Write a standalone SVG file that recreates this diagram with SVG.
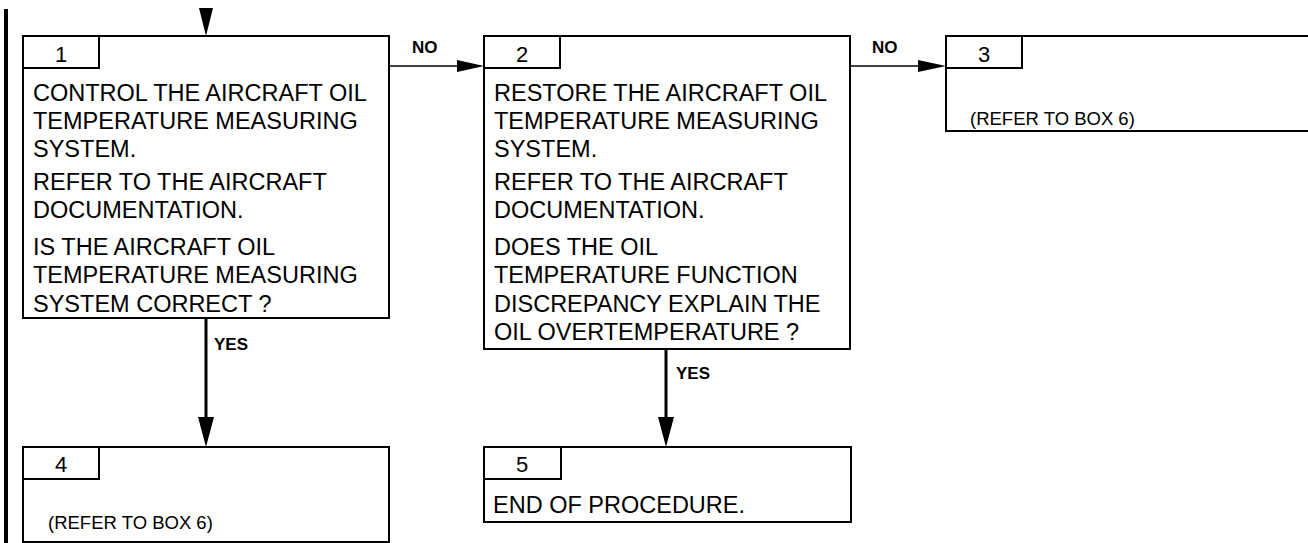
<svg xmlns="http://www.w3.org/2000/svg" width="1308" height="543" viewBox="0 0 1308 543">
<style>
.box{fill:#fff;stroke:#000;stroke-width:2}
.tab{fill:none;stroke:#000;stroke-width:2}
.t{font-family:"Liberation Sans",Arial,sans-serif;font-size:23.5px;fill:#000}
.num{font-family:"Liberation Sans",Arial,sans-serif;font-size:22px;fill:#000;text-anchor:middle}
.sm{font-family:"Liberation Sans",Arial,sans-serif;font-size:18.5px;fill:#000}
.lbl{font-family:"Liberation Sans",Arial,sans-serif;font-size:17px;font-weight:bold;fill:#000}
.thin{stroke:#000;stroke-width:1.5;fill:none}
.thick{stroke:#000;stroke-width:3;fill:none}
</style>
<rect x="4" y="9" width="4" height="534" fill="#000"/>
<g id="connectors">
<polygon points="199,8 213,8 206,36" fill="#000"/>
<line class="thin" x1="389" y1="66" x2="458" y2="66"/>
<polygon points="457,60 484,66 457,72" fill="#000"/>
<line class="thin" x1="850" y1="66" x2="919" y2="66"/>
<polygon points="918,60 946,66 918,72" fill="#000"/>
<line class="thick" x1="206" y1="318" x2="206" y2="418"/>
<polygon points="198,417 214,417 206,447" fill="#000"/>
<line class="thick" x1="666" y1="349" x2="666" y2="418"/>
<polygon points="658,417 674,417 666,447" fill="#000"/>
<text class="lbl" x="412" y="53">NO</text>
<text class="lbl" x="872" y="53">NO</text>
<text class="lbl" x="214" y="350">YES</text>
<text class="lbl" x="676" y="379">YES</text>
</g>
<g id="node1">
<rect class="box" x="23" y="36" width="366" height="282"/>
<polyline class="tab" points="23,68 99,68 99,36"/>
<text class="num" x="61" y="62">1</text>
<text class="t" x="33" y="101">CONTROL THE AIRCRAFT OIL</text>
<text class="t" x="33" y="129">TEMPERATURE MEASURING</text>
<text class="t" x="33" y="157">SYSTEM.</text>
<text class="t" x="33" y="190">REFER TO THE AIRCRAFT</text>
<text class="t" x="33" y="218">DOCUMENTATION.</text>
<text class="t" x="33" y="255">IS THE AIRCRAFT OIL</text>
<text class="t" x="33" y="283">TEMPERATURE MEASURING</text>
<text class="t" x="33" y="312">SYSTEM CORRECT ?</text>
</g>
<g id="node2">
<rect class="box" x="484" y="36" width="366" height="313"/>
<polyline class="tab" points="484,68 560,68 560,36"/>
<text class="num" x="522" y="62">2</text>
<text class="t" x="494" y="101">RESTORE THE AIRCRAFT OIL</text>
<text class="t" x="494" y="129">TEMPERATURE MEASURING</text>
<text class="t" x="494" y="157">SYSTEM.</text>
<text class="t" x="494" y="190">REFER TO THE AIRCRAFT</text>
<text class="t" x="494" y="218">DOCUMENTATION.</text>
<text class="t" x="494" y="255">DOES THE OIL</text>
<text class="t" x="494" y="283">TEMPERATURE FUNCTION</text>
<text class="t" x="494" y="312">DISCREPANCY EXPLAIN THE</text>
<text class="t" x="494" y="340">OIL OVERTEMPERATURE ?</text>
</g>
<g id="node3">
<rect class="box" x="946" y="36" width="380" height="95"/>
<polyline class="tab" points="946,68 1022,68 1022,36"/>
<text class="num" x="984" y="62">3</text>
<text class="sm" x="970" y="125">(REFER TO BOX 6)</text>
</g>
<g id="node4">
<rect class="box" x="23" y="447" width="366" height="95"/>
<polyline class="tab" points="23,479 99,479 99,447"/>
<text class="num" x="61" y="472">4</text>
<text class="sm" x="48" y="529">(REFER TO BOX 6)</text>
</g>
<g id="node5">
<rect class="box" x="484" y="447" width="367" height="75"/>
<polyline class="tab" points="484,479 561,479 561,447"/>
<text class="num" x="522" y="472">5</text>
<text class="t" x="493" y="513">END OF PROCEDURE.</text>
</g>
</svg>
